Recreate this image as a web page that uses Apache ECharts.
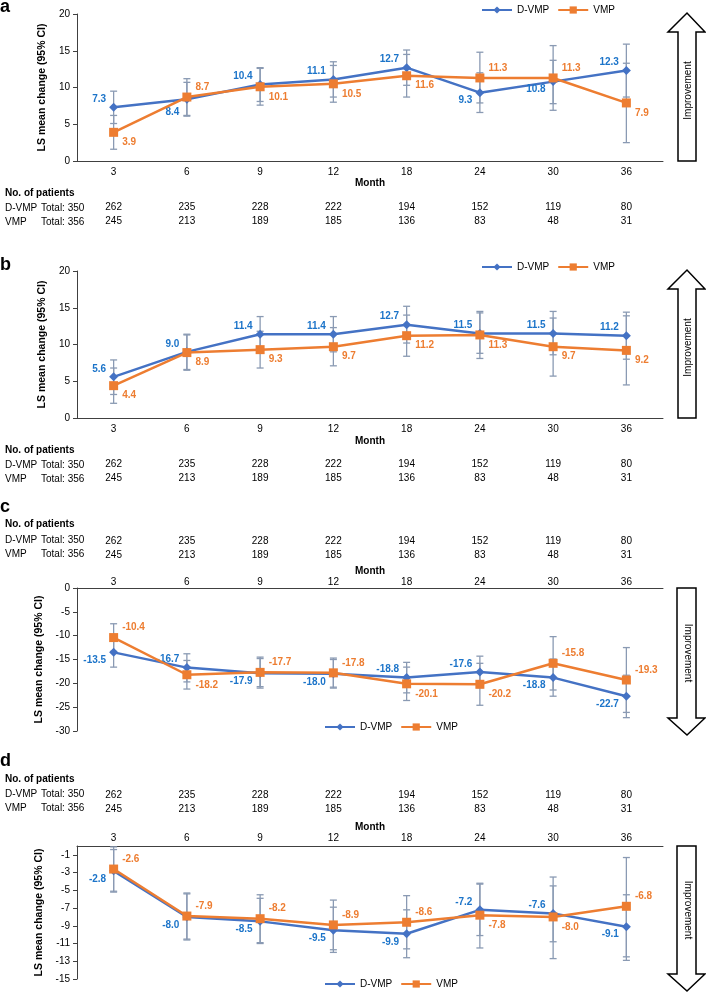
<!DOCTYPE html>
<html style="height: 100%">
<head>
<meta charset="utf-8">
</head>
<body style="height: 100%; margin: 0; background: #fff">
<div id="container" style="width: 706px; height: 993px"></div>
<script type="text/javascript" src="https://cdn.jsdelivr.net/npm/echarts@6/dist/echarts.min.js"></script>
<script type="text/javascript">
// months and patients at risk
var months = ['3', '6', '9', '12', '18', '24', '30', '36'];
var dPatients = ['262', '235', '228', '222', '194', '152', '119', '80'];
var vPatients = ['245', '213', '189', '185', '136', '83', '48', '31'];
var groupNames = ['D-VMP', 'VMP'];
var groupTotals = ['Total: 350', 'Total: 356'];

// panel a
var aD = [7.3, 8.4, 10.4, 11.1, 12.7, 9.3, 10.8, 12.3];
var aDLo = [5.1, 6.1, 8.1, 8.7, 10.3, 6.6, 7.8, 8.7];
var aDHi = [9.5, 10.7, 12.7, 13.5, 15.1, 12.0, 13.7, 15.9];
var aV = [3.9, 8.7, 10.1, 10.5, 11.6, 11.3, 11.3, 7.9];
var aVLo = [1.6, 6.2, 7.6, 8.0, 8.7, 7.9, 6.9, 2.5];
var aVHi = [6.2, 11.2, 12.6, 13.0, 14.5, 14.8, 15.7, 13.3];

// panel b
var bD = [5.6, 9.0, 11.4, 11.4, 12.7, 11.5, 11.5, 11.2];
var bDLo = [3.2, 6.6, 9.0, 9.0, 10.2, 8.8, 8.6, 8.0];
var bDHi = [7.9, 11.4, 13.8, 13.8, 15.2, 14.3, 14.5, 14.4];
var bV = [4.4, 8.9, 9.3, 9.7, 11.2, 11.3, 9.7, 9.2];
var bVLo = [2.0, 6.5, 6.8, 7.1, 8.4, 8.1, 5.7, 4.5];
var bVHi = [6.8, 11.3, 11.8, 12.3, 14.0, 14.5, 13.6, 13.9];

// panel c
var cD = [-13.5, -16.7, -17.9, -18.0, -18.8, -17.6, -18.8, -22.7];
var cDLo = [-16.6, -19.7, -21.0, -21.0, -22.0, -20.9, -22.7, -27.2];
var cDHi = [-10.4, -13.8, -14.8, -15.0, -15.6, -14.3, -14.9, -18.3];
var cV = [-10.4, -18.2, -17.7, -17.8, -20.1, -20.2, -15.8, -19.3];
var cVLo = [-13.3, -21.2, -20.7, -20.8, -23.6, -24.6, -21.4, -26.1];
var cVHi = [-7.5, -15.2, -14.5, -14.7, -16.6, -15.8, -10.2, -12.5];

// panel d
var dD = [-2.8, -8.0, -8.5, -9.5, -9.9, -7.2, -7.6, -9.1];
var dDLo = [-5.2, -10.6, -11.0, -12.0, -12.6, -10.1, -10.8, -12.9];
var dDHi = [-0.4, -5.4, -5.9, -6.9, -7.2, -4.3, -4.5, -5.5];
var dV = [-2.6, -7.9, -8.2, -8.9, -8.6, -7.8, -8.0, -6.8];
var dVLo = [-5.1, -10.5, -10.9, -11.7, -11.6, -11.5, -12.7, -12.5];
var dVHi = [-0.1, -5.3, -5.5, -6.1, -5.6, -4.2, -3.5, -1.3];

// where each value label sits (t/b = above/below, B = further below; l/r = left/right)
var aDPos = ['tl', 'Bl', 'tl', 'tl', 'tl', 'bl', 'bl', 'tl'];
var aVPos = ['br', 'tr', 'br', 'br', 'br', 'tr', 'tr', 'br'];
var bDPos = ['tl', 'tl', 'tl', 'tl', 'tl', 'tl', 'tl', 'tl'];
var bVPos = ['br', 'br', 'br', 'br', 'br', 'br', 'br', 'br'];
var cDPos = ['bl', 'tl', 'bl', 'bl', 'tl', 'tl', 'bl', 'bl'];
var cVPos = ['tr', 'br', 'tr', 'tr', 'br', 'br', 'tr', 'tr'];
var dDPos = ['bl', 'bl', 'bl', 'bl', 'bl', 'tl', 'tl', 'bl'];
var dVPos = ['tr', 'tr', 'tr', 'tr', 'tr', 'br', 'br', 'tr'];

var BLUE = '#4472C4', BLUE_TXT = '#1C74C9', ORANGE = '#ED7D31', ERR = '#8A9AB3';
var FONT = '"Liberation Sans", Arial, sans-serif';

var panels = [
  {letter: 'a', top: 14, height: 147, min: 0, max: 20, step: 5, pos: 'bottom', up: true,
   D: aD, DLo: aDLo, DHi: aDHi, V: aV, VLo: aVLo, VHi: aVHi, DPos: aDPos, VPos: aVPos,
   legendLeft: 476, legendTop: 0, letterTop: -2, tableY: 193, mainMargin: 6, rowMargins: [41, 55], nameGap: 17},
  {letter: 'b', top: 271, height: 147, min: 0, max: 20, step: 5, pos: 'bottom', up: true,
   D: bD, DLo: bDLo, DHi: bDHi, V: bV, VLo: bVLo, VHi: bVHi, DPos: bDPos, VPos: bVPos,
   legendLeft: 476, legendTop: 257, letterTop: 256, tableY: 450, mainMargin: 6, rowMargins: [41, 55], nameGap: 18},
  {letter: 'c', top: 588, height: 143, min: -30, max: 0, step: 5, pos: 'top', up: false,
   D: cD, DLo: cDLo, DHi: cDHi, V: cV, VLo: cVLo, VHi: cVHi, DPos: cDPos, VPos: cVPos,
   legendLeft: 319, legendTop: 717, letterTop: 498, tableY: 524, mainMargin: 1, rowMargins: [42, 28], nameGap: 10},
  {letter: 'd', top: 846, height: 133, min: -15, max: 0, step: 2, pos: 'top', up: false,
   D: dD, DLo: dDLo, DHi: dDHi, V: dV, VLo: dVLo, VHi: dVHi, DPos: dDPos, VPos: dVPos,
   legendLeft: 319, legendTop: 974, letterTop: 752, tableY: 779, mainMargin: 3, rowMargins: [46, 32], nameGap: 11}
];

function labelItems(vals, places, dy) {
  return vals.map(function (v, i) {
    var p = places[i];
    var v0 = p.charAt(0);
    var off = v0 === 't' ? -dy : (v0 === 'B' ? dy * 1.6 : dy);
    return {
      value: v,
      label: {
        position: p.charAt(1) === 'l' ? 'left' : 'right',
        offset: [0, off]
      }
    };
  });
}

function errData(lo, hi) {
  return lo.map(function (l, i) { return [i, l, hi[i]]; });
}

function renderErr(params, api) {
  var x = api.value(0);
  var p1 = api.coord([x, api.value(1)]);
  var p2 = api.coord([x, api.value(2)]);
  var w = 3.5;
  var st = {stroke: ERR, lineWidth: 1.3, fill: null};
  return {
    type: 'group',
    children: [
      {type: 'line', shape: {x1: p1[0], y1: p1[1], x2: p2[0], y2: p2[1]}, style: st},
      {type: 'line', shape: {x1: p1[0] - w, y1: p1[1], x2: p1[0] + w, y2: p1[1]}, style: st},
      {type: 'line', shape: {x1: p2[0] - w, y1: p2[1], x2: p2[0] + w, y2: p2[1]}, style: st}
    ]
  };
}

var grids = [], xAxes = [], yAxes = [], series = [], legends = [], graphics = [];

panels.forEach(function (p, k) {
  grids.push({left: 77, right: 43, top: p.top, height: p.height});

  xAxes.push({
    type: 'category', gridIndex: k, data: months, position: p.pos,
    name: 'Month', nameLocation: 'middle', nameGap: p.nameGap,
    nameTextStyle: {fontFamily: FONT, fontSize: 10, fontWeight: 'bold', color: '#000'},
    axisLine: {onZero: false, lineStyle: {color: '#404040', width: 1}},
    axisTick: {alignWithLabel: true, inside: p.pos === 'top', length: 3, lineStyle: {color: '#404040'}},
    axisLabel: {fontFamily: FONT, fontSize: 10, color: '#000', margin: p.mainMargin}
  });
  [dPatients, vPatients].forEach(function (row, r) {
    xAxes.push({
      type: 'category', gridIndex: k, data: row, position: p.pos,
      axisLine: {show: false, onZero: false}, axisTick: {show: false},
      axisLabel: {fontFamily: FONT, fontSize: 10, color: '#000', margin: p.rowMargins[r]}
    });
  });

  yAxes.push({
    type: 'value', gridIndex: k, min: p.min, max: p.max, interval: p.step,
    name: 'LS mean change (95% CI)', nameLocation: 'middle', nameGap: 21,
    nameTextStyle: {fontFamily: FONT, fontSize: 10.5, fontWeight: 'bold', color: '#000'},
    splitLine: {show: false},
    axisLine: {show: true, lineStyle: {color: '#404040', width: 1}},
    axisTick: {show: true, length: 4, lineStyle: {color: '#404040'}},
    axisLabel: {fontFamily: FONT, fontSize: 10, color: '#000', margin: 7,
      showMaxLabel: (p.max - p.min) % p.step === 0}
  });

  var xi = 3 * k;
  series.push({
    type: 'custom', name: 'D-VMP CI', xAxisIndex: xi, yAxisIndex: k, z: 1,
    renderItem: renderErr, encode: {x: 0, y: [1, 2]}, data: errData(p.DLo, p.DHi)
  });
  series.push({
    type: 'custom', name: 'VMP CI', xAxisIndex: xi, yAxisIndex: k, z: 1,
    renderItem: renderErr, encode: {x: 0, y: [1, 2]}, data: errData(p.VLo, p.VHi)
  });
  series.push({
    type: 'line', name: 'D-VMP', xAxisIndex: xi, yAxisIndex: k, z: 3,
    symbol: 'diamond', symbolSize: 9, color: BLUE,
    lineStyle: {color: BLUE, width: 2.5}, itemStyle: {color: BLUE},
    label: {show: true, distance: 3, fontFamily: FONT, fontSize: 10, fontWeight: 'bold', color: BLUE_TXT,
      formatter: function (d) { return d.value.toFixed(1); }},
    data: labelItems(p.D, p.DPos, 8)
  });
  series.push({
    type: 'line', name: 'VMP', xAxisIndex: xi, yAxisIndex: k, z: 4,
    symbol: 'rect', symbolSize: 9, color: ORANGE,
    lineStyle: {color: ORANGE, width: 2.5}, itemStyle: {color: ORANGE},
    label: {show: true, distance: 4, fontFamily: FONT, fontSize: 10, fontWeight: 'bold', color: ORANGE,
      formatter: function (d) { return d.value.toFixed(1); }},
    data: labelItems(p.V, p.VPos, 10)
  });

  legends.push({
    data: groupNames, left: p.legendLeft, top: p.legendTop, itemWidth: 30, itemHeight: 9, itemGap: 8,
    textStyle: {fontFamily: FONT, fontSize: 10, color: '#000'}
  });

  // panel letter
  graphics.push({type: 'text', left: 0, top: p.letterTop,
    style: {text: p.letter, fontFamily: FONT, fontSize: 18, fontWeight: 'bold', fill: '#000'}});

  // patients table headers
  graphics.push({type: 'text', x: 5, y: p.tableY,
    style: {text: 'No. of patients', fontFamily: FONT, fontSize: 10, fontWeight: 'bold', fill: '#000', verticalAlign: 'middle'}});
  var rowYs = p.pos === 'bottom'
    ? [p.top + p.height + p.rowMargins[0] + 6, p.top + p.height + p.rowMargins[1] + 6]
    : [p.top - p.rowMargins[0] - 6, p.top - p.rowMargins[1] - 6];
  groupNames.forEach(function (g, r) {
    graphics.push({type: 'text', x: 5, y: rowYs[r],
      style: {text: g, fontFamily: FONT, fontSize: 10, fill: '#000', verticalAlign: 'middle'}});
    graphics.push({type: 'text', x: 41, y: rowYs[r],
      style: {text: groupTotals[r], fontFamily: FONT, fontSize: 10, fill: '#000', verticalAlign: 'middle'}});
  });

  // improvement arrow
  var pts, ty;
  if (p.up) {
    var t0 = p.top - 1, b0 = p.top + p.height;
    pts = [[678, b0], [678, t0 + 19], [668, t0 + 19], [687, t0], [705, t0 + 19], [696, t0 + 19], [696, b0]];
    ty = (t0 + 19 + b0) / 2 - 6;
  } else {
    var t1 = p.top, b1 = p.letter === 'c' ? 735 : 991;
    pts = [[677, t1], [696, t1], [696, b1 - 17], [705, b1 - 17], [687, b1], [668, b1 - 17], [677, b1 - 17]];
    ty = (t1 + b1 - 17) / 2;
  }
  graphics.push({type: 'polygon', shape: {points: pts},
    style: {fill: '#fff', stroke: '#000', lineWidth: 1.5}});
  graphics.push({type: 'text', x: 688, y: ty, rotation: p.up ? Math.PI / 2 : -Math.PI / 2,
    style: {text: 'Improvement', fontFamily: FONT, fontSize: 10, fill: '#000', align: 'center', verticalAlign: 'middle'}});
});

var dom = document.getElementById('container');
var myChart = echarts.init(dom);

var option = {
  animation: false,
  backgroundColor: '#fff',
  grid: grids,
  xAxis: xAxes,
  yAxis: yAxes,
  legend: legends,
  series: series,
  graphic: graphics
};
myChart.setOption(option);
</script>
</body>
</html>
